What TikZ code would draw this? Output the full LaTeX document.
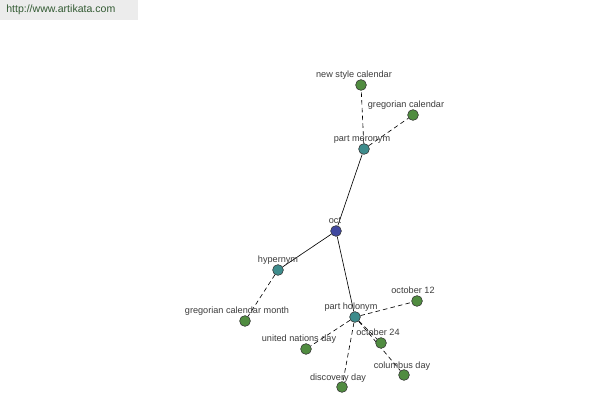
\documentclass[tikz,border=0pt]{standalone}
\usepackage{fontspec}
\setmainfont{Liberation Sans}
\usetikzlibrary{backgrounds}
\definecolor{leafc}{RGB}{80,140,64}
\definecolor{relc}{RGB}{62,140,140}
\definecolor{rootc}{RGB}{64,72,160}
\definecolor{labc}{RGB}{60,60,60}
\definecolor{bannerbg}{RGB}{236,236,236}
\definecolor{bannertx}{RGB}{50,90,50}
\begin{document}
\begin{tikzpicture}[x=0.025cm,y=-0.025cm,
  dot/.style={circle,draw=black!80,line width=0.4pt,minimum size=0.27cm,inner sep=0pt},
  leaf/.style={dot,fill=leafc},
  rel/.style={dot,fill=relc},
  root/.style={dot,fill=rootc},
  lab/.style={anchor=base,text=labc,font=\fontsize{6.5}{7}\selectfont,inner sep=0pt},
  solidedge/.style={draw=black,line width=0.45pt},
  dashedge/.style={draw=black,line width=0.45pt,dash pattern=on 3.2pt off 2.3pt}]
\useasboundingbox (0,0) rectangle (600,400);
% nodes
\node[root] (oct) at (336,231) {};
\node[rel] (pm) at (364,149) {};
\node[rel] (hyp) at (278,270) {};
\node[rel] (ph) at (355,317) {};
\node[leaf] (nsc) at (361,85) {};
\node[leaf] (gc) at (413,115) {};
\node[leaf] (gcm) at (245,321) {};
\node[leaf] (o12) at (417,301) {};
\node[leaf] (o24) at (381,343) {};
\node[leaf] (und) at (306,349) {};
\node[leaf] (cd) at (404,375) {};
\node[leaf] (dd) at (342,387) {};
% labels
\node[lab] (octl) at (335,223.5) {oct};
\node[lab] (pml) at (362,142) {part meronym};
\node[lab] (hypl) at (278,263) {hypernym};
\node[lab] (phl) at (351,310) {part holonym};
\node[lab] (nscl) at (354,78) {new style calendar};
\node[lab] (gcl) at (406,108) {gregorian calendar};
\node[lab] (gcml) at (237,314) {gregorian calendar month};
\node[lab] (o12l) at (413,294) {october 12};
\node[lab] (o24l) at (378,336) {october 24};
\node[lab] (undl) at (299,342) {united nations day};
\node[lab] (cdl) at (402,368) {columbus day};
\node[lab] (ddl) at (338,380) {discovery day};
\begin{scope}[on background layer]
\fill[white] (0,0) rectangle (600,400);
\fill[bannerbg] (0,0) rectangle (138,20);
\draw[solidedge] (oct) -- (pm);
\draw[solidedge] (oct) -- (hyp);
\draw[solidedge] (oct) -- (ph);
\draw[dashedge] (pm) -- (nsc);
\draw[dashedge] (pm) -- (gc);
\draw[dashedge] (hyp) -- (gcm);
\draw[dashedge] (ph) -- (o12);
\draw[dashedge] (ph) -- (o24);
\draw[dashedge] (ph) -- (und);
\draw[dashedge] (ph) -- (cd);
\draw[dashedge] (ph) -- (dd);
\end{scope}
\node[anchor=west,text=bannertx,font=\fontsize{7.5}{9}\selectfont,inner sep=0pt] (banner) at (6,10) {http://www.artikata.com};
\end{tikzpicture}
\end{document}
